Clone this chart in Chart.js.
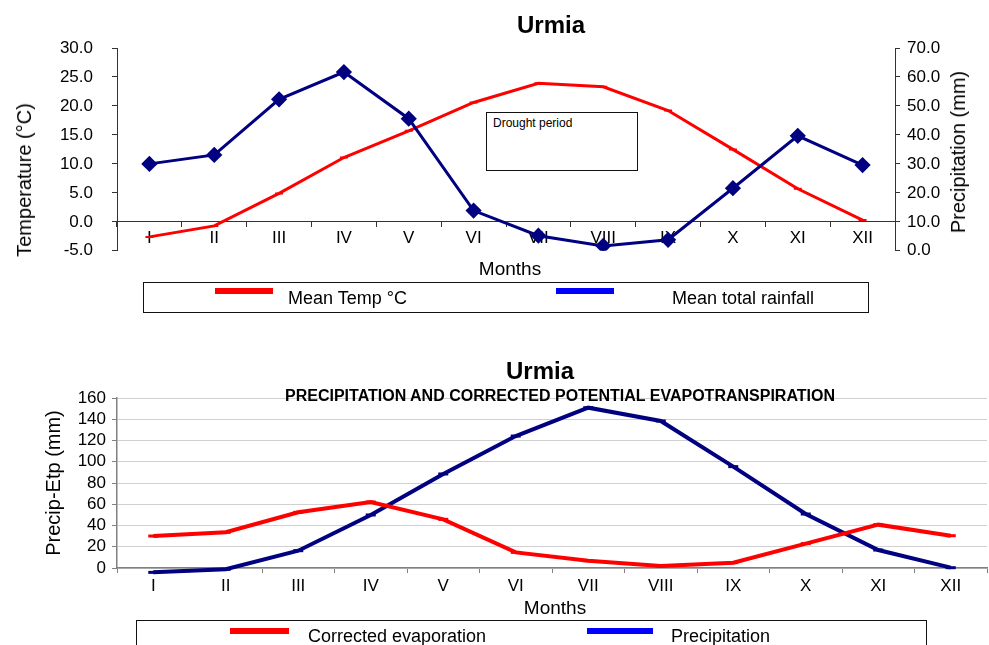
<!DOCTYPE html>
<html>
<head>
<meta charset="utf-8">
<script src="https://cdn.jsdelivr.net/npm/chart.js@4.4.1/dist/chart.umd.min.js"></script>
<style>
  body { margin: 0; background: #fff; font-family: 'Liberation Sans', Arial, sans-serif; }
  #page { position: relative; width: 989px; height: 645px; overflow: hidden; }
  canvas { position: absolute; left: 0; }
  .t { position: absolute; transform: translate(-50%, -50%); white-space: nowrap; line-height: 1; color: #000; }
  .rot { position: absolute; transform: translate(-50%, -50%) rotate(-90deg); white-space: nowrap; line-height: 1; font-size: 20px; }
  .box { position: absolute; border: 1.5px solid #111; background: #fff; box-sizing: border-box; }
  .sw { position: absolute; height: 6px; }
  .lt { position: absolute; font-size: 18px; line-height: 1; transform: translateY(-50%); white-space: nowrap; }
</style>
</head>
<body>
<div id="page">
  <canvas id="climChart" width="989" height="280" style="top:0"></canvas>
  <canvas id="etpChart" width="989" height="270" style="top:330px"></canvas>

  <div class="t" style="left:551px;top:25px;font-size:24px;font-weight:bold">Urmia</div>
  <div class="rot" style="left:24px;top:180px">Temperature (°C)</div>
  <div class="rot" style="left:958px;top:152px">Precipitation (mm)</div>
  <div class="box" style="left:486px;top:112px;width:152px;height:59px">
    <span style="position:absolute;left:6px;top:3px;font-size:12px">Drought period</span>
  </div>
  <div class="t" style="left:510px;top:268px;font-size:19px">Months</div>
  <div class="box" style="left:143px;top:282px;width:726px;height:31px"></div>
  <div class="sw" style="left:215px;top:288px;width:58px;background:#ff0000"></div>
  <div class="lt" style="left:288px;top:298px">Mean Temp °C</div>
  <div class="sw" style="left:556px;top:288px;width:58px;background:#0000ff"></div>
  <div class="lt" style="left:672px;top:298px">Mean total rainfall</div>

  <div class="t" style="left:540px;top:371px;font-size:24px;font-weight:bold">Urmia</div>
  <div class="t" style="left:560px;top:396px;font-size:16px;font-weight:bold">PRECIPITATION AND CORRECTED POTENTIAL EVAPOTRANSPIRATION</div>
  <div class="t" style="left:555px;top:607px;font-size:19px">Months</div>
  <div class="box" style="left:136px;top:620px;width:791px;height:40px"></div>
  <div class="sw" style="left:230px;top:628px;width:59px;background:#ff0000"></div>
  <div class="lt" style="left:308px;top:636px">Corrected evaporation</div>
  <div class="sw" style="left:587px;top:628px;width:66px;background:#0000ff"></div>
  <div class="lt" style="left:671px;top:636px">Precipitation</div>
</div>

<script>
// Urmia climate data
const months = ['I', 'II', 'III', 'IV', 'V', 'VI', 'VII', 'VIII', 'IX', 'X', 'XI', 'XII'];
const meanTemp = [-2.6, -0.7, 4.9, 11.1, 15.7, 20.6, 23.9, 23.3, 19.2, 12.5, 5.7, 0.3];
const meanRainfall = [30.0, 33.1, 52.3, 61.7, 45.6, 13.9, 5.2, 1.7, 3.8, 21.6, 39.7, 29.6];
const correctedEvap = [30.1, 33.6, 52.4, 62.1, 45.8, 14.7, 6.9, 1.9, 5.0, 22.9, 40.8, 30.4];
const precipitation = [-4.1, -1.2, 16.3, 49.9, 88.5, 124.2, 150.9, 138.4, 95.4, 50.8, 16.9, 0.3];

Chart.defaults.font.family = "'Liberation Sans', Arial, sans-serif";
Chart.defaults.color = '#000';
Chart.defaults.animation = false;

const red = '#ff0000';
const navy = '#000080';

// top chart: temperature (left) vs rainfall (right)
new Chart(document.getElementById('climChart'), {
  type: 'line',
  data: {
    labels: months,
    datasets: [{
      label: 'Mean Temp °C',
      data: meanTemp,
      yAxisID: 'y',
      borderColor: red,
      backgroundColor: red,
      borderWidth: 3,
      pointStyle: 'line',
      pointRadius: 4,
      pointBorderWidth: 2,
      tension: 0,
      order: 2
    }, {
      label: 'Mean total rainfall',
      data: meanRainfall,
      yAxisID: 'y1',
      borderColor: navy,
      backgroundColor: navy,
      borderWidth: 3,
      pointStyle: 'rectRot',
      pointRadius: 6,
      tension: 0,
      order: 1
    }]
  },
  options: {
    responsive: false,
    layout: { padding: { top: 48, bottom: 14, left: 0, right: 0 } },
    plugins: { legend: { display: false }, tooltip: { enabled: false } },
    scales: {
      x: {
        position: { y: 0 },
        offset: true,
        afterFit: (s) => { s.height = 0; },
        grid: { drawOnChartArea: false, offset: true, color: '#333', tickLength: 5 },
        border: { color: '#333' },
        ticks: { font: { size: 17 }, padding: 1, autoSkip: false, maxRotation: 0 }
      },
      y: {
        position: 'left',
        min: -5, max: 30,
        afterFit: (s) => { s.width = 117; },
        grid: { drawOnChartArea: false, color: '#333', tickLength: 5 },
        border: { color: '#333' },
        ticks: { stepSize: 5, autoSkip: false, font: { size: 17 }, padding: 19, callback: (v) => v.toFixed(1) }
      },
      y1: {
        position: 'right',
        min: 0, max: 70,
        afterFit: (s) => { s.width = 94; },
        grid: { drawOnChartArea: false, color: '#333', tickLength: 5 },
        border: { color: '#333' },
        ticks: { stepSize: 10, autoSkip: false, font: { size: 17 }, padding: 7, callback: (v) => v.toFixed(1) }
      }
    }
  }
});

// bottom chart: precipitation vs corrected ETP
new Chart(document.getElementById('etpChart'), {
  type: 'line',
  data: {
    labels: months,
    datasets: [{
      label: 'Corrected evaporation',
      data: correctedEvap,
      borderColor: red,
      backgroundColor: red,
      borderWidth: 4,
      pointStyle: 'line',
      pointRadius: 5,
      pointBorderWidth: 3,
      tension: 0,
      clip: false
    }, {
      label: 'Precipitation',
      data: precipitation,
      borderColor: navy,
      backgroundColor: navy,
      borderWidth: 4,
      pointStyle: 'line',
      pointRadius: 5,
      pointBorderWidth: 3,
      tension: 0,
      clip: false
    }]
  },
  options: {
    responsive: false,
    layout: { autoPadding: false, padding: { top: 68, bottom: 0, left: 0, right: 2 } },
    plugins: { legend: { display: false }, tooltip: { enabled: false } },
    scales: {
      x: {
        position: 'bottom',
        offset: true,
        afterFit: (s) => { s.height = 32; s.paddingLeft = 0; s.paddingRight = 0; },
        grid: { drawOnChartArea: false, offset: true, color: '#808080', tickLength: 5 },
        border: { color: '#808080', width: 1.5 },
        ticks: { font: { size: 17 }, padding: 3, autoSkip: false, maxRotation: 0 }
      },
      y: {
        min: 0, max: 160,
        afterFit: (s) => { s.width = 117; },
        grid: { color: '#d0d0d0', tickColor: '#808080', tickLength: 5 },
        border: { color: '#808080', width: 1.5 },
        ticks: { stepSize: 20, autoSkip: false, font: { size: 17 }, padding: 6 },
        title: { display: true, text: 'Precip-Etp (mm)', font: { size: 20 }, padding: { top: 42, bottom: 0 } }
      }
    }
  }
});
</script>
</body>
</html>
